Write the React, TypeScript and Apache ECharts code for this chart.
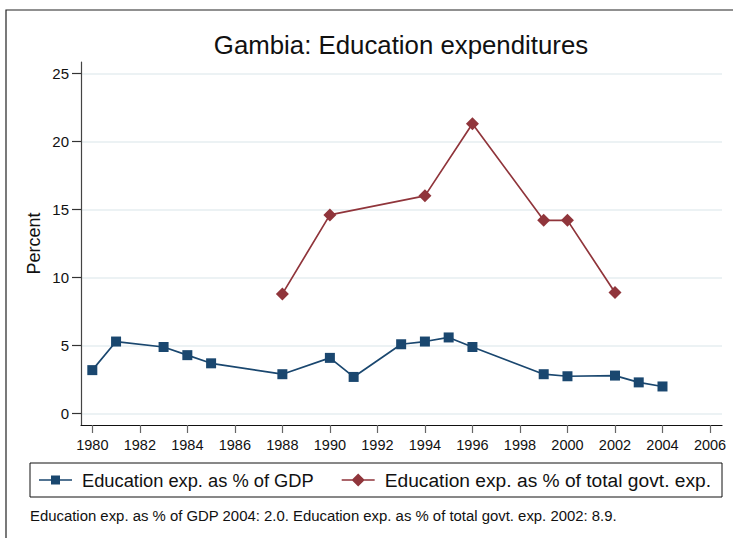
import React, { useEffect, useRef } from "react";
import * as echarts from "echarts";

const gdpYears = [1980, 1981, 1983, 1984, 1985, 1988, 1990, 1991, 1993, 1994, 1995, 1996, 1999, 2000, 2002, 2003, 2004];
const gdpValues = [3.2, 5.3, 4.9, 4.3, 3.7, 2.9, 4.1, 2.7, 5.1, 5.3, 5.6, 4.9, 2.9, 2.75, 2.8, 2.3, 2.0];
const govYears = [1988, 1990, 1994, 1996, 1999, 2000, 2002];
const govValues = [8.8, 14.6, 16.0, 21.3, 14.2, 14.2, 8.9];
const xTicks = [1980, 1982, 1984, 1986, 1988, 1990, 1992, 1994, 1996, 1998, 2000, 2002, 2004, 2006];
const yTicks = [0, 5, 10, 15, 20, 25];
const seriesNames = ["Education exp. as % of GDP", "Education exp. as % of total govt. exp."];
const titleText = "Gambia: Education expenditures";
const noteText = "Education exp. as % of GDP 2004: 2.0. Education exp. as % of total govt. exp. 2002: 8.9.";

const FONT = "'Liberation Sans', Arial, Helvetica, sans-serif";
const BLUE = "#1a476f";
const RED = "#90353b";
const GRID = "#e6eef1";

const ICON_SQUARE =
  "path://M0,0L0.01,0L0,0.01Z M33,13L32.99,13L33,12.99Z M0,5.8L12,5.8L12,2L21,2L21,5.8L33,5.8L33,7.2L21,7.2L21,11L12,11L12,7.2L0,7.2Z";
const ICON_DIAMOND =
  "path://M0,5.8L10.7,5.8L16.5,0L22.3,5.8L33,5.8L33,7.2L22.3,7.2L16.5,13L10.7,7.2L0,7.2Z";

export default function App() {
  const ref = useRef<HTMLDivElement>(null);
  useEffect(() => {
    if (!ref.current) return;
    const chart = echarts.init(ref.current, null, { renderer: "svg" });
    const option: any = {
      animation: false,
      backgroundColor: "#fff",
      textStyle: { fontFamily: FONT },
      grid: { left: 81, right: 11, top: 62, bottom: 113, containLabel: false },
      xAxis: {
        type: "value",
        min: 1979.524,
        max: 2006.505,
        axisLine: { show: true, onZero: false, lineStyle: { color: "#111", width: 1.2 } },
        axisTick: { show: true, customValues: xTicks, length: 8, lineStyle: { color: "#666", width: 1.2 } },
        axisLabel: {
          customValues: xTicks,
          formatter: (v: number) => String(v),
          color: "#111",
          fontSize: 14.5,
          margin: 12,
          fontFamily: FONT,
        },
        splitLine: { show: false },
      },
      yAxis: {
        type: "value",
        min: -0.83,
        max: 25.83,
        name: "Percent",
        nameLocation: "middle",
        nameGap: 38,
        nameMoveOverlap: false,
        nameRotate: 90,
        nameTextStyle: { fontSize: 18, color: "#111", fontFamily: FONT },
        axisLine: { show: true, onZero: false, lineStyle: { color: "#444", width: 1.2 } },
        axisTick: { show: true, customValues: yTicks, length: 9, lineStyle: { color: "#333", width: 1.2 } },
        axisLabel: {
          customValues: yTicks,
          formatter: (v: number) => String(v),
          color: "#111",
          fontSize: 15,
          margin: 12,
          fontFamily: FONT,
        },
        splitLine: { show: false },
      },
      legend: {
        data: [
          { name: seriesNames[0], icon: ICON_SQUARE },
          { name: seriesNames[1], icon: ICON_DIAMOND, textStyle: { fontSize: 19.2 } },
        ],
        left: 39,
        top: 470,
        padding: 0,
        itemWidth: 33,
        itemHeight: 13,
        itemGap: 28,
        textStyle: { fontSize: 18.3, color: "#111", fontFamily: FONT, lineHeight: 20, padding: [0, 0, 0, 5] },
      },
      graphic: [
        {
          type: "rect",
          shape: { x: 6, y: 10, width: 760, height: 560 },
          style: { fill: "none", stroke: "#222", lineWidth: 1.2 },
          silent: true,
        },
        {
          type: "rect",
          shape: { x: 30, y: 463, width: 692, height: 34 },
          style: { fill: "none", stroke: "#111", lineWidth: 1 },
          silent: true,
        },
        {
          type: "text",
          x: 401,
          y: 45,
          style: { text: titleText, fontSize: 25.8, fontFamily: FONT, fill: "#111", align: "center", verticalAlign: "middle" },
        },
        {
          type: "text",
          x: 30,
          y: 516,
          style: { text: noteText, fontSize: 14.9, fontFamily: FONT, fill: "#111", align: "left", verticalAlign: "middle" },
        },
      ],
      series: [
        {
          type: "line",
          name: "gridlines",
          data: [],
          z: 0,
          silent: true,
          markLine: {
            z: 0,
            silent: true,
            symbol: ["none", "none"],
            label: { show: false },
            emphasis: { disabled: true },
            lineStyle: { color: GRID, width: 1.6, type: "solid" },
            data: yTicks.map((v) => ({ yAxis: v })),
          },
        },
        {
          type: "line",
          name: seriesNames[0],
          data: gdpYears.map((y, i) => [y, gdpValues[i]]),
          symbol: "rect",
          symbolSize: 10,
          itemStyle: { color: BLUE },
          lineStyle: { color: BLUE, width: 1.7 },
          z: 3,
        },
        {
          type: "line",
          name: seriesNames[1],
          data: govYears.map((y, i) => [y, govValues[i]]),
          symbol: "diamond",
          symbolSize: 13,
          itemStyle: { color: RED },
          lineStyle: { color: RED, width: 1.7 },
          z: 3,
        },
      ],
    };
    chart.setOption(option);
    return () => chart.dispose();
  }, []);
  return <div ref={ref} style={{ position: "fixed", left: 0, top: 0, width: 733, height: 538 }} />;
}
